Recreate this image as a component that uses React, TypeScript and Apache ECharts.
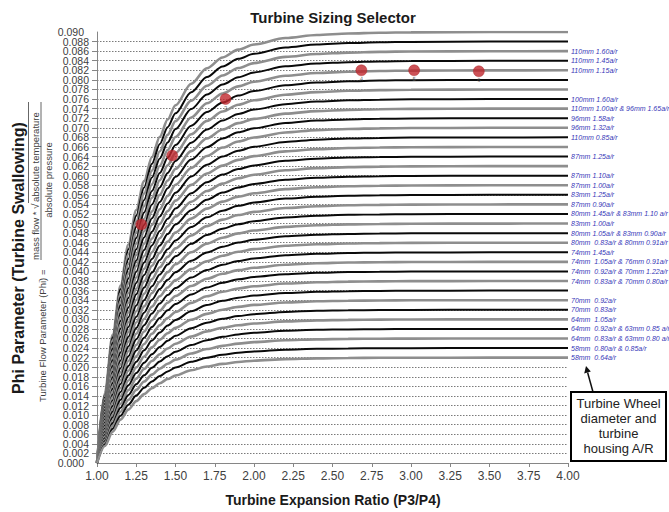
import React, { useEffect, useRef } from "react";
import * as echarts from "echarts";

// Shared curve shape read from the envelope (top) curve: fraction of plateau at each pressure ratio
const profileX = [1.0, 1.05, 1.1, 1.15, 1.2, 1.25, 1.3, 1.35, 1.4, 1.45, 1.5, 1.6, 1.7, 1.8, 1.9, 2.0, 2.2, 2.4, 2.6, 2.8, 3.0, 3.5, 4.0];
const profileFrac = [0, 0.162, 0.298, 0.412, 0.507, 0.587, 0.654, 0.71, 0.757, 0.797, 0.83, 0.88, 0.916, 0.941, 0.959, 0.971, 0.986, 0.993, 0.9965, 0.9983, 0.9992, 0.9999, 1.0];

// Plateau (choked) Phi of each curve, top to bottom
const plateaus = [
  0.09, 0.088, 0.086, 0.084, 0.082, 0.08, 0.078, 0.076, 0.074, 0.072, 0.07, 0.068,
  0.066, 0.064, 0.062, 0.06, 0.058, 0.056, 0.054, 0.052, 0.05, 0.048, 0.046, 0.044,
  0.042, 0.04, 0.038, 0.036, 0.034, 0.032, 0.03, 0.028, 0.026, 0.024, 0.022,
];

const curveLabels = [
  "", "", "110mm 1.60a/r", "110mm 1.45a/r", "110mm 1.15a/r", "", "",
  "100mm 1.60a/r", "110mm 1.00a/r & 96mm 1.65a/r", "96mm 1.58a/r", "96mm 1.32a/r",
  "110mm 0.85a/r", "", "87mm 1.25a/r", "", "87mm 1.10a/r", "87mm 1.00a/r",
  "83mm 1.25a/r", "87mm 0.90a/r", "80mm 1.45a/r & 83mm 1.10 a/r", "83mm 1.00a/r",
  "80mm 1.05a/r & 83mm 0.90a/r", "80mm  0.83a/r & 80mm 0.91a/r", "74mm 1.45a/r",
  "74mm  1.05a/r & 76mm 0.91a/r", "74mm  0.92a/r & 70mm 1.22a/r",
  "74mm  0.83a/r & 70mm 0.80a/r", "", "70mm  0.92a/r", "70mm  0.83a/r",
  "64mm  1.05a/r", "64mm  0.92a/r & 63mm 0.85 a/r", "64mm  0.83a/r & 63mm 0.80 a/r",
  "58mm  0.80a/r & 0.85a/r", "58mm  0.64a/r",
];

const curveShade = [
  "gray", "black", "gray", "black", "gray", "black", "gray", "black", "gray", "black",
  "gray", "black", "gray", "black", "gray", "black", "gray", "black", "gray", "black",
  "gray", "black", "gray", "black", "gray", "black", "gray", "black", "gray", "black",
  "gray", "black", "gray", "black", "gray",
];

// Operating points (red dots)
const pointX = [1.282, 1.479, 1.819, 2.684, 3.02, 3.432];
const pointY = [0.0498, 0.0642, 0.076, 0.082, 0.082, 0.0818];
const pointTags = ["1", "2", "3", "4", "5", "6"];

const X_MIN = 1.0;
const X_MAX = 4.0;
const X_STEP = 0.25;
const Y_MIN = 0;
const Y_MAX = 0.09;
const Y_STEP = 0.002;

const FONT = "Liberation Sans";

export default function App() {
  const ref = useRef<HTMLDivElement>(null);

  useEffect(() => {
    if (!ref.current) return;
    const chart = echarts.init(ref.current, undefined, { renderer: "svg" });

    const lineSeries = plateaus.map((p, i) => {
      const data = profileX.map((x, k) => [x, p * profileFrac[k]]);
      const isBlack = curveShade[i] === "black";
      const label = curveLabels[i];
      return {
        type: "line",
        data,
        smooth: 0.3,
        smoothMonotone: "x",
        showSymbol: false,
        symbol: "none",
        silent: true,
        z: 2,
        lineStyle: {
          color: isBlack ? "#0a0a0a" : "#8e8e8e",
          width: isBlack ? 2 : 2.6,
        },
        endLabel: {
          show: label !== "",
          formatter: label,
          color: "#3838b8",
          fontSize: 7,
          fontStyle: "italic",
          fontFamily: FONT,
          distance: 3,
        },
      };
    });

    const scatter = {
      type: "scatter",
      data: pointX.map((x, i) => [x, pointY[i]]),
      symbolSize: 11,
      z: 5,
      itemStyle: { color: "#c1272d", borderColor: "#a51f24", borderWidth: 0.5 },
      label: {
        show: true,
        position: "bottom",
        distance: 0,
        formatter: (p: any) => pointTags[p.dataIndex],
        fontSize: 6,
        color: "#555",
        fontFamily: FONT,
      },
    };

    const axisColor = "#868686";
    const yLabelStyle = {
      color: "#404040",
      fontSize: 10.5,
      lineHeight: 8,
      margin: 8,
      fontFamily: FONT,
    };
    const isEnd = (v: number) => Math.abs(v - Y_MIN) < 1e-9 || Math.abs(v - Y_MAX) < 1e-9;

    const option: any = {
      animation: false,
      backgroundColor: "#ffffff",
      grid: { left: 97, right: 101, top: 32, bottom: 49, containLabel: false },
      xAxis: {
        type: "value",
        min: X_MIN,
        max: X_MAX,
        interval: X_STEP,
        axisLine: { show: true, onZero: false, lineStyle: { color: axisColor, width: 1 } },
        axisTick: { show: true, length: 4, lineStyle: { color: axisColor } },
        axisLabel: {
          formatter: (v: number) => v.toFixed(2),
          color: "#404040",
          fontSize: 12,
          margin: 7,
          fontFamily: FONT,
          showMinLabel: true,
          showMaxLabel: true,
        },
        splitLine: { show: false },
      },
      yAxis: [
        {
          type: "value",
          min: Y_MIN,
          max: Y_MAX,
          interval: Y_STEP,
          axisLine: { show: true, lineStyle: { color: axisColor, width: 1 } },
          axisTick: { show: true, length: 5, lineStyle: { color: axisColor } },
          axisLabel: {
            ...yLabelStyle,
            formatter: (v: number) => (isEnd(v) ? "" : v.toFixed(3)),
            showMinLabel: false,
            showMaxLabel: false,
          },
          splitLine: {
            show: true,
            showMinLine: false,
            showMaxLine: false,
            lineStyle: { color: "#7a7a7a", width: 1, type: [1.5, 1.5] },
          },
        },
        {
          type: "value",
          position: "left",
          offset: 0,
          min: Y_MIN,
          max: Y_MAX,
          interval: Y_STEP,
          axisLine: { show: false },
          axisTick: { show: false },
          splitLine: { show: false },
          axisLabel: {
            ...yLabelStyle,
            margin: 13,
            formatter: (v: number) => (isEnd(v) ? v.toFixed(3) : ""),
            showMinLabel: true,
            showMaxLabel: true,
          },
        },
      ],
      series: [...lineSeries, scatter],
      graphic: [
        {
          type: "text",
          x: 333,
          y: 17,
          style: {
            text: "Turbine Sizing Selector",
            x: 0,
            y: 0,
            align: "center",
            verticalAlign: "middle",
            font: `bold 15px ${FONT}`,
            fill: "#1a1a1a",
          },
        },
        {
          type: "text",
          x: 333,
          y: 500,
          style: {
            text: "Turbine Expansion Ratio (P3/P4)",
            x: 0,
            y: 0,
            align: "center",
            verticalAlign: "middle",
            font: `bold 14px ${FONT}`,
            fill: "#1a1a1a",
          },
        },
        {
          type: "text",
          x: 18,
          y: 258,
          rotation: Math.PI / 2,
          style: {
            text: "Phi Parameter (Turbine Swallowing)",
            x: 0,
            y: 0,
            align: "center",
            verticalAlign: "middle",
            font: `bold 16px ${FONT}`,
            fill: "#1a1a1a",
          },
        },
        {
          type: "group",
          x: 42,
          y: 402,
          rotation: Math.PI / 2,
          children: [
            {
              type: "text",
              style: {
                text: "Turbine Flow Parameter (Phi) =",
                x: 0,
                y: 0,
                align: "left",
                verticalAlign: "middle",
                font: `9.5px ${FONT}`,
                fill: "#404040",
              },
            },
            {
              type: "text",
              style: {
                text: "mass flow *",
                x: 142,
                y: -7,
                align: "left",
                verticalAlign: "middle",
                font: `9.5px ${FONT}`,
                fill: "#404040",
              },
            },
            {
              type: "text",
              style: {
                text: "\u221A",
                x: 193,
                y: -7,
                align: "left",
                verticalAlign: "middle",
                font: `10px ${FONT}`,
                fill: "#404040",
              },
            },
            {
              type: "text",
              style: {
                text: "absolute temperature",
                x: 200,
                y: -7,
                align: "left",
                verticalAlign: "middle",
                font: `9.5px ${FONT}`,
                fill: "#404040",
              },
            },
            {
              type: "line",
              shape: { x1: 199, y1: -13.5, x2: 300, y2: -13.5 },
              style: { stroke: "#404040", lineWidth: 0.8 },
            },
            {
              type: "line",
              shape: { x1: 142, y1: -1, x2: 300, y2: -1 },
              style: { stroke: "#404040", lineWidth: 0.8 },
            },
            {
              type: "text",
              style: {
                text: "absolute pressure",
                x: 222,
                y: 6.5,
                align: "center",
                verticalAlign: "middle",
                font: `9.5px ${FONT}`,
                fill: "#404040",
              },
            },
          ],
        },
        {
          type: "line",
          shape: { x1: 593, y1: 392, x2: 587.6, y2: 372.5 },
          style: { stroke: "#111", lineWidth: 1.5 },
          z: 10,
        },
        {
          type: "polygon",
          shape: { points: [[586, 366], [590.8, 371.6], [584.2, 373.5]] },
          style: { fill: "#111" },
          z: 10,
        },
        {
          type: "rect",
          shape: { x: 571, y: 392, width: 95, height: 69 },
          style: { fill: "#ffffff", stroke: "#000", lineWidth: 2 },
          z: 10,
        },
        {
          type: "text",
          z: 11,
          style: {
            text: "Turbine Wheel\ndiameter and\nturbine\nhousing A/R",
            x: 618.5,
            y: 396.5,
            align: "center",
            verticalAlign: "top",
            lineHeight: 14.8,
            font: `13px ${FONT}`,
            fill: "#222",
          },
        },
      ],
    };

    chart.setOption(option);
    return () => chart.dispose();
  }, []);

  return (
    <div
      ref={ref}
      style={{ position: "fixed", left: 0, top: 0, width: 669, height: 512, background: "#fff" }}
    />
  );
}
